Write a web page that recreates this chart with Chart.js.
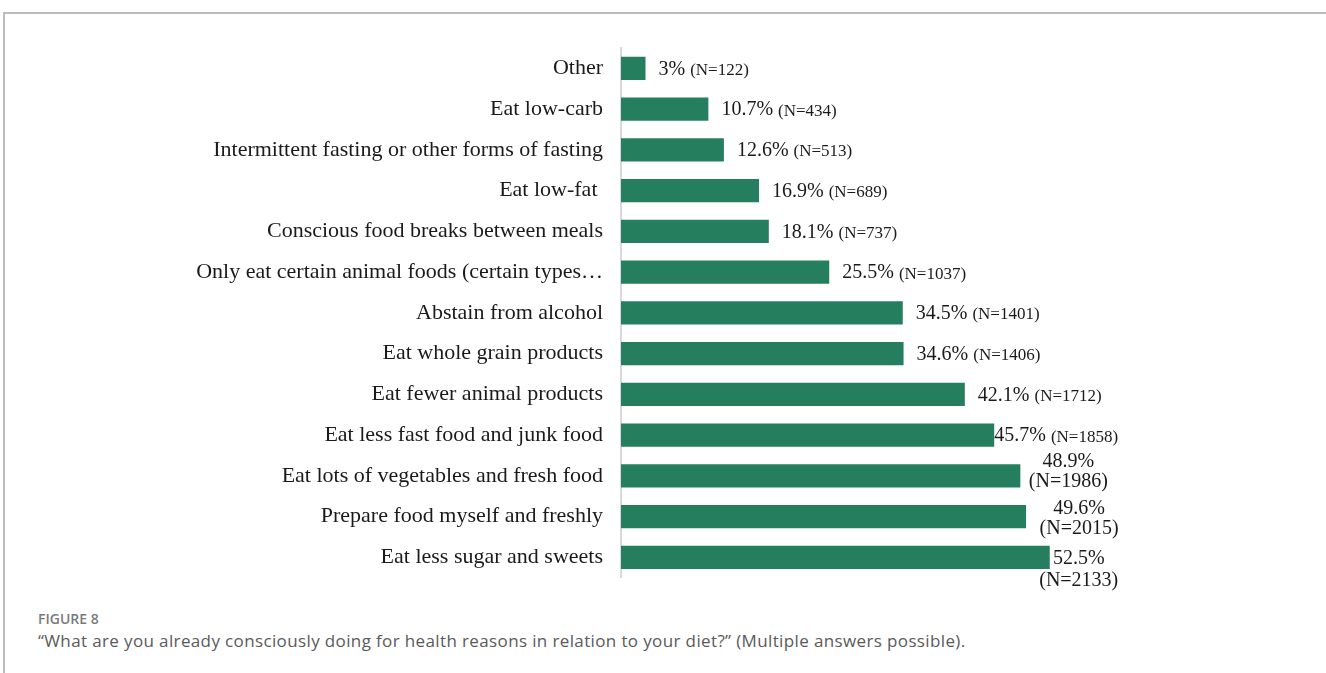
<!DOCTYPE html>
<html>
<head>
<meta charset="utf-8">
<script src="https://cdn.jsdelivr.net/npm/chart.js@4"></script>
<style>
    html, body { margin: 0; padding: 0; background: #fff; }
    body { width: 1326px; height: 673px; position: relative; overflow: hidden; }
    .frame {
        position: absolute; left: 3px; top: 12px; width: 1340px; height: 700px;
        border-left: 2px solid #bdbdbd; border-top: 2px solid #bdbdbd;
    }
    .chart-wrap { position: absolute; left: 0; top: 0; width: 1326px; height: 609px; }
    .fig-label {
        position: absolute; left: 38px; top: 612px; line-height: 14px;
        font-family: "Open Sans", sans-serif; font-size: 14px; font-weight: 600; color: #7a7a7a;
    }
    .fig-caption {
        position: absolute; left: 38px; top: 632px; line-height: 17px; white-space: nowrap;
        font-family: "Open Sans", sans-serif; font-size: 17px; color: #5a5a5a;
        letter-spacing: 0.37px;
    }
</style>
</head>
<body>
<div class="frame"></div>
<div class="chart-wrap"><canvas id="ChartDiet"></canvas></div>
<div class="fig-label">FIGURE 8</div>
<div class="fig-caption">“What are you already consciously doing for health reasons in relation to your diet?” (Multiple answers possible).</div>

<script>
// Answers, top to bottom as in the figure
const answers = [
    'Other',
    'Eat low-carb',
    'Intermittent fasting or other forms of fasting',
    'Eat low-fat ',
    'Conscious food breaks between meals',
    'Only eat certain animal foods (certain types\u2026',
    'Abstain from alcohol',
    'Eat whole grain products',
    'Eat fewer animal products',
    'Eat less fast food and junk food',
    'Eat lots of vegetables and fresh food',
    'Prepare food myself and freshly',
    'Eat less sugar and sweets'
];
const percents = [3, 10.7, 12.6, 16.9, 18.1, 25.5, 34.5, 34.6, 42.1, 45.7, 48.9, 49.6, 52.5];
const counts = [122, 434, 513, 689, 737, 1037, 1401, 1406, 1712, 1858, 1986, 2015, 2133];

const barColor = '#257f5f';
const serif = '"Liberation Serif", "Times New Roman", serif';

// data labels: "xx% (N=yyy)", wrapped on two lines when space runs out (like Excel does)
const valueLabels = {
    id: 'valueLabels',
    afterDatasetsDraw(chart) {
        const ctx = chart.ctx;
        const meta = chart.getDatasetMeta(0);
        ctx.save();
        ctx.fillStyle = '#1a1a1a';
        ctx.textBaseline = 'middle';
        meta.data.forEach((bar, i) => {
            const pct = percents[i] + '%';
            const n = '(N=' + counts[i] + ')';
            const y = bar.y;
            if (i < 10) {
                let x = i === 9 ? bar.x : bar.x + 13;
                ctx.textAlign = 'left';
                ctx.font = '20px ' + serif;
                ctx.fillText(pct, x, y + 1);
                x += ctx.measureText(pct + ' ').width;
                ctx.font = '17px ' + serif;
                ctx.fillText(n, x, y + 2);
            } else {
                // two lines, centred over the end of the bar
                const shift = [[48, -14, 6], [53, -8, 12], [29, 1, 23]][i - 10];
                ctx.textAlign = 'center';
                ctx.font = '20px ' + serif;
                ctx.fillText(pct, bar.x + shift[0], y + shift[1]);
                ctx.fillText(n, bar.x + shift[0], y + shift[2]);
            }
        });
        ctx.restore();
    }
};

new Chart(document.getElementById('ChartDiet'), {
    type: 'bar',
    data: {
        labels: answers,
        datasets: [
            {
                data: percents,
                backgroundColor: barColor,
                borderWidth: 0,
                barPercentage: 0.57,
                categoryPercentage: 1
            }
        ]
    },
    options: {
        indexAxis: 'y',
        responsive: true,
        maintainAspectRatio: false,
        animation: false,
        layout: {
            padding: { top: 48, bottom: 6, right: 215, left: 0 }
        },
        plugins: {
            legend: { display: false },
            tooltip: { enabled: false }
        },
        scales: {
            x: {
                display: false,
                min: 0,
                max: 60
            },
            y: {
                afterFit(scale) {
                    scale.width = 621;
                },
                grid: { display: false, drawTicks: false },
                border: { display: true, color: '#d9d9d9', width: 2 },
                ticks: {
                    color: '#1a1a1a',
                    padding: 18,
                    font: { family: serif, size: 22 }
                }
            }
        }
    },
    plugins: [valueLabels]
});
</script>
</body>
</html>
